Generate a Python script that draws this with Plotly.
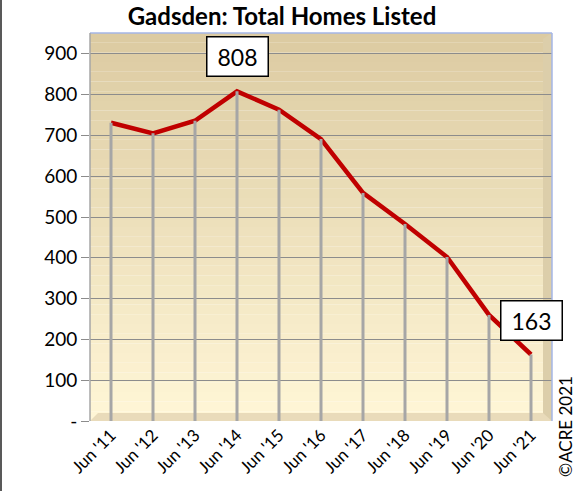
"""
Gadsden: Total Homes Listed - línea con líneas de caída al eje.
"""
import plotly.graph_objects as go

# Datos
years = ["Jun '11", "Jun '12", "Jun '13", "Jun '14", "Jun '15", "Jun '16",
         "Jun '17", "Jun '18", "Jun '19", "Jun '20", "Jun '21"]
homes_listed = [731, 705, 736, 808, 763, 691, 559, 483, 402, 260, 163]
y_ticks = [0, 100, 200, 300, 400, 500, 600, 700, 800, 900]
y_tick_labels = ["-", "100", "200", "300", "400", "500", "600", "700", "800", "900"]

FONT = "Lato"
LINE_RED = "#C00000"
DROP_GRAY = "#A6A6A6"


def mix(c1, c2, t):
    a = [int(c1[i:i + 2], 16) for i in (1, 3, 5)]
    b = [int(c2[i:i + 2], 16) for i in (1, 3, 5)]
    return "#" + "".join(f"{round(x + (y - x) * t):02x}" for x, y in zip(a, b))


fig = go.Figure()

# Línea principal
fig.add_trace(go.Scatter(
    x=years, y=homes_listed, mode="lines",
    line=dict(color=LINE_RED, width=4.5),
    showlegend=False, hoverinfo="skip",
))

# Líneas de caída hasta cero
fig.add_trace(go.Scatter(
    x=years, y=homes_listed, mode="markers",
    marker=dict(size=1, color=DROP_GRAY, opacity=0),
    error_y=dict(type="data", symmetric=False,
                 array=[0] * len(homes_listed), arrayminus=homes_listed,
                 color=DROP_GRAY, thickness=3, width=0),
    showlegend=False,
))

# Fondo degradado del área del gráfico
shapes = []
n_bands = 40
for i in range(n_bands):
    shapes.append(dict(
        type="rect", xref="paper", yref="paper",
        x0=0, x1=1, y0=i / n_bands, y1=(i + 1) / n_bands,
        fillcolor=mix("#FFF6D6", "#DCCBA2", i / (n_bands - 1)),
        line_width=0, layer="below",
    ))

# Suelo y pared derecha (efecto 3D)
fx, fy = 8 / 462, 8 / 388
shapes.append(dict(
    type="path", xref="paper", yref="paper",
    path=f"M 0 0 L {fx} {fy} L 1 {fy} L 1 0 Z",
    fillcolor="#E9DBBA", line_width=0, layer="below",
))
wx = 9 / 462
shapes.append(dict(
    type="path", xref="paper", yref="paper",
    path=f"M {1 - wx} {fy} L {1 - wx} 0.985 L 1 1 L 1 0 Z",
    fillcolor="#DCCEAA", line_width=0, layer="between",
))
# Bordes del área
shapes.append(dict(type="line", xref="paper", yref="paper",
                   x0=0, x1=1, y0=1, y1=1, line=dict(color="#A4B6E6", width=1.5)))
shapes.append(dict(type="line", xref="paper", yref="paper",
                   x0=1, x1=1, y0=0, y1=1, line=dict(color="#A4B6E6", width=1.5)))
shapes.append(dict(type="line", xref="paper", yref="paper",
                   x0=0, x1=0, y0=0, y1=1, line=dict(color="#A6A6A6", width=1.5)))
# Borde izquierdo del gráfico
shapes.append(dict(type="line", xref="paper", yref="paper",
                   xsizemode="pixel", xanchor=0, x0=-89, x1=-89,
                   ysizemode="scaled", y0=-0.2, y1=1.1,
                   line=dict(color="#595959", width=2)))

annotations = [
    dict(x="Jun '14", y=808, text="808", showarrow=True, arrowcolor="rgba(0,0,0,0)",
         ax=0, ay=-35, bgcolor="white", bordercolor="black", borderwidth=1.5,
         width=58, height=36, borderpad=1, font=dict(family=FONT, size=23, color="black")),
    dict(x="Jun '21", y=163, text="163", showarrow=True, arrowcolor="rgba(0,0,0,0)",
         ax=0, ay=-34, bgcolor="white", bordercolor="black", borderwidth=1.5,
         width=58, height=36, borderpad=1, font=dict(family=FONT, size=23, color="black")),
    dict(text="©ACRE 2021", xref="paper", yref="paper",
         x=(565 - 90) / 462, y=(421 - 427) / 388, xanchor="center", yanchor="middle",
         textangle=-90, showarrow=False,
         font=dict(family=FONT, size=17, color="black")),
]

fig.update_layout(
    width=576, height=491,
    margin=dict(l=90, r=24, t=33, b=70),
    paper_bgcolor="white", plot_bgcolor="rgba(0,0,0,0)",
    title=dict(text="<b>Gadsden: Total Homes Listed</b>",
               x=282 / 576, xanchor="center", y=1 - 17 / 491, yanchor="middle",
               font=dict(family=FONT, size=24, color="black")),
    font=dict(family=FONT, color="black"),
    shapes=shapes, annotations=annotations,
    showlegend=False,
)
fig.update_xaxes(
    type="category", range=[-0.5, len(years) - 0.5],
    showgrid=False, tickangle=-45, tickfont=dict(size=17),
    ticks="", showline=False, zeroline=False,
)
fig.update_yaxes(
    range=[0, 951], tickvals=y_ticks, ticktext=y_tick_labels,
    showgrid=True, gridcolor="#8C8C8C", gridwidth=1,
    ticks="outside", ticklen=8, tickcolor="#8C8C8C",
    tickfont=dict(size=19), zeroline=False, showline=False,
)

fig.write_html("out.html", config={"displayModeBar": False},
               post_script="document.body.style.margin = '0';")
